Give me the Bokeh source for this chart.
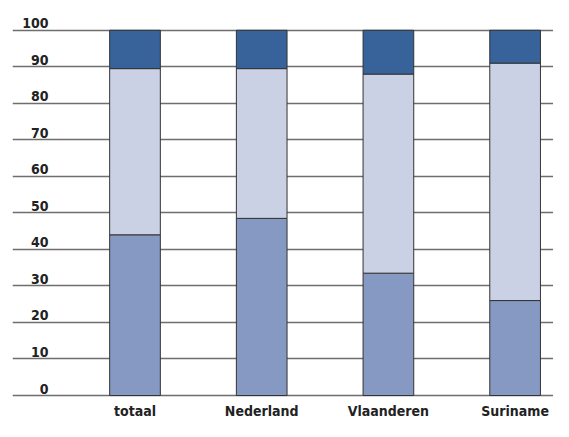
from bokeh.plotting import figure
from bokeh.models import ColumnDataSource, FixedTicker, Range1d
from bokeh.core.properties import value
from bokeh.embed import file_html
from bokeh.resources import INLINE

categories = ["totaal", "Nederland", "Vlaanderen", "Suriname"]
seg_bottom = [44, 48.5, 33.5, 26]
seg_middle = [45.5, 41, 54.5, 65]
seg_top = [10.5, 10.5, 12, 9]
y_ticks = [0, 10, 20, 30, 40, 50, 60, 70, 80, 90, 100]

colors = ["#8699c3", "#cbd1e4", "#37629a"]
FONT = "'DejaVu Sans Condensed', 'Liberation Sans'"

xs = [i + 1 for i in range(len(categories))]
b0 = [0] * len(xs)
t0 = seg_bottom
b1 = seg_bottom
t1 = [a + b for a, b in zip(seg_bottom, seg_middle)]
b2 = t1
t2 = [a + b for a, b in zip(t1, seg_top)]

src = ColumnDataSource(dict(x=xs, b0=b0, t0=t0, b1=b1, t1=t1, b2=b2, t2=t2))

p = figure(width=553, height=421, output_backend="svg", toolbar_location=None,
           x_range=Range1d(0.0332, 4.303), y_range=Range1d(-1.09, 108.15),
           min_border_left=12, min_border_right=0, min_border_top=0, min_border_bottom=10)
p.outline_line_color = None
p.background_fill_color = "white"
p.border_fill_color = "white"

p.yaxis.visible = False
p.xgrid.visible = False
p.ygrid.ticker = FixedTicker(ticks=y_ticks)
p.ygrid.grid_line_color = "#6e6e6e"
p.ygrid.grid_line_width = 1.5

for (bk, tk), c in zip([("b0", "t0"), ("b1", "t1"), ("b2", "t2")], colors):
    p.vbar(x="x", bottom=bk, top=tk, width=0.4, source=src, fill_color=c,
           line_color="#333333", line_width=1)

lab = ColumnDataSource(dict(x=[0.317] * len(y_ticks), y=y_ticks, t=[str(v) for v in y_ticks]))
p.text(x="x", y="y", text="t", source=lab, text_align="right", text_baseline="bottom",
       y_offset=-2, text_font=value(FONT), text_font_style="bold", text_font_size="14px",
       text_color="#222222")

ax = p.xaxis[0]
ax.ticker = FixedTicker(ticks=xs)
ax.major_label_overrides = {x: c for x, c in zip(xs, categories)}
ax.axis_line_color = None
ax.major_tick_line_color = None
ax.minor_tick_line_color = None
ax.major_tick_out = 0
ax.major_tick_in = 0
ax.major_label_standoff = 3
ax.major_label_text_font = FONT
ax.major_label_text_font_style = "bold"
ax.major_label_text_font_size = "14px"
ax.major_label_text_color = "#222222"

open("out.html", "w").write(file_html(p, INLINE))
